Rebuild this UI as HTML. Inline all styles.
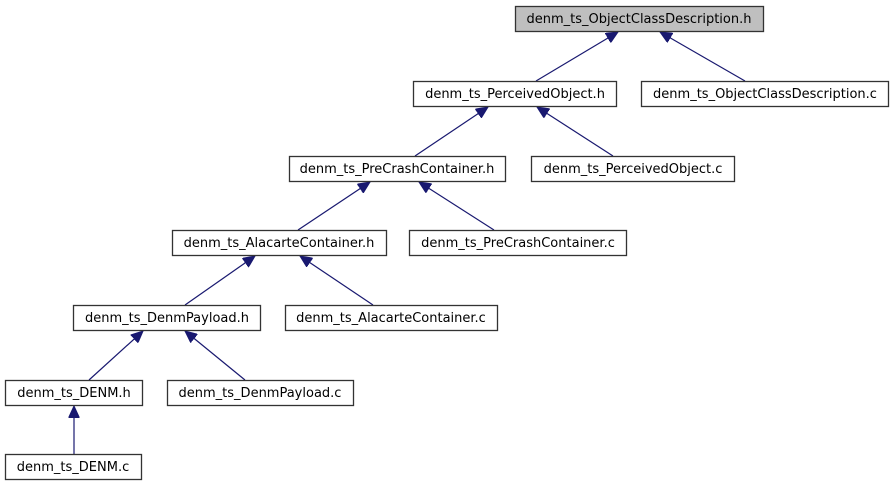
<!DOCTYPE html>
<html><head><meta charset="utf-8"><style>
html,body{margin:0;padding:0;background:#fff;}
svg{display:block;}
text{font-family:"DejaVu Sans","Liberation Sans",sans-serif;font-size:13px;fill:#000;}
</style></head><body>
<svg width="893" height="485" viewBox="0 0 893 485" xmlns="http://www.w3.org/2000/svg">
<defs>
<marker id="a" markerWidth="13" markerHeight="11" refX="12" refY="5.5" orient="auto" markerUnits="userSpaceOnUse">
<path d="M0,0 L12,5.5 L0,11 Z" fill="#191970" stroke="#191970"/>
</marker>
</defs>
<g stroke="#191970" stroke-width="1.2" fill="none" marker-end="url(#a)">
<line x1="536" y1="81" x2="618" y2="32"/>
<line x1="745" y1="81" x2="660" y2="32"/>
<line x1="415" y1="156" x2="488" y2="107"/>
<line x1="613" y1="156" x2="537" y2="107"/>
<line x1="298" y1="230" x2="370" y2="182"/>
<line x1="494" y1="230" x2="419" y2="182"/>
<line x1="185" y1="305" x2="255" y2="256"/>
<line x1="373" y1="305" x2="300" y2="256"/>
<line x1="89" y1="380" x2="143" y2="331"/>
<line x1="245" y1="380" x2="185" y2="331"/>
<line x1="74" y1="454" x2="74" y2="406"/>
</g>
<g stroke="#333" stroke-width="1.3" fill="#fff">
<rect x="515.5" y="6.5" width="248" height="25" fill="#bfbfbf"/>
<rect x="413.5" y="81.5" width="203" height="25"/>
<rect x="641.5" y="81.5" width="247" height="25"/>
<rect x="289.5" y="156.5" width="216" height="25"/>
<rect x="531.5" y="156.5" width="203" height="25"/>
<rect x="172.5" y="230.5" width="214" height="25"/>
<rect x="409.5" y="230.5" width="217" height="25"/>
<rect x="73.5" y="305.5" width="187" height="25"/>
<rect x="285.5" y="305.5" width="212" height="25"/>
<rect x="5.5" y="380.5" width="137" height="25"/>
<rect x="167.5" y="380.5" width="186" height="25"/>
<rect x="5.5" y="454.5" width="136" height="25"/>
</g>
<g text-anchor="middle">
<text x="639" y="23">denm_ts_ObjectClassDescription.h</text>
<text x="515" y="98">denm_ts_PerceivedObject.h</text>
<text x="765" y="98">denm_ts_ObjectClassDescription.c</text>
<text x="397" y="173">denm_ts_PreCrashContainer.h</text>
<text x="633" y="173">denm_ts_PerceivedObject.c</text>
<text x="279" y="247">denm_ts_AlacarteContainer.h</text>
<text x="518" y="247">denm_ts_PreCrashContainer.c</text>
<text x="167" y="322">denm_ts_DenmPayload.h</text>
<text x="391" y="322">denm_ts_AlacarteContainer.c</text>
<text x="74" y="397">denm_ts_DENM.h</text>
<text x="260" y="397">denm_ts_DenmPayload.c</text>
<text x="73" y="471">denm_ts_DENM.c</text>
</g>
</svg>
</body></html>
